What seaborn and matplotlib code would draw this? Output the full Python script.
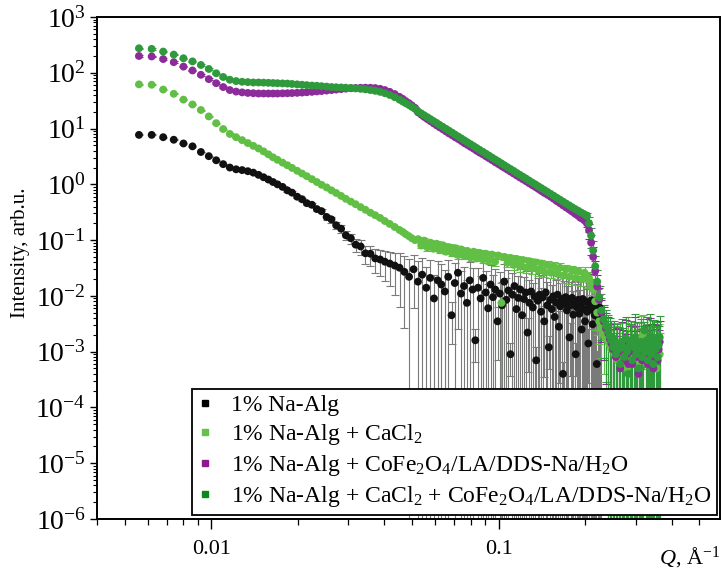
import numpy as np
import pandas as pd
import seaborn as sns
import matplotlib
matplotlib.use("Agg")
import matplotlib.pyplot as plt
from matplotlib.ticker import LogLocator, FixedLocator, FuncFormatter, NullFormatter, LogFormatterSciNotation
from matplotlib.lines import Line2D

# ---------------- data (Q in 1/Angstrom, intensity in arb. units) ----------------
Q_low = [
    0.0056, 0.0062, 0.0068, 0.0074, 0.0080, 0.0086, 0.0092, 0.0098, 0.0104, 0.0110,
    0.0116, 0.0122, 0.0128, 0.0134, 0.0140, 0.0146, 0.0152, 0.0158, 0.0164, 0.0170,
    0.0177, 0.0184, 0.0191, 0.0199, 0.0207, 0.0215, 0.0224, 0.0233, 0.0242, 0.0252,
    0.0262, 0.0272, 0.0283, 0.0294, 0.0306, 0.0318, 0.0331, 0.0344, 0.0358, 0.0372,
    0.0387, 0.0402, 0.0418, 0.0435, 0.0452]

Q_mid = [
    0.0464, 0.0475, 0.0487, 0.0499, 0.0512,
    0.0525, 0.0538, 0.0551, 0.0565, 0.0579, 0.0594, 0.0609, 0.0624, 0.0640, 0.0656,
    0.0672, 0.0689, 0.0706, 0.0724, 0.0742, 0.0760, 0.0779, 0.0799, 0.0819, 0.0839,
    0.0860, 0.0882, 0.0904, 0.0926, 0.0949, 0.0973, 0.0998, 0.1023, 0.1048, 0.1074,
    0.1101, 0.1129, 0.1157, 0.1186, 0.1216, 0.1246, 0.1277, 0.1309, 0.1342, 0.1375,
    0.1410, 0.1445, 0.1481, 0.1518, 0.1556, 0.1595, 0.1635, 0.1676, 0.1718, 0.1761,
    0.1805, 0.1850, 0.1896, 0.1944, 0.1992, 0.2030, 0.2065, 0.2100, 0.2135, 0.2170]

Q_tail = [
    0.2205, 0.2240, 0.2280, 0.2320, 0.2365, 0.2410, 0.2440, 0.2470, 0.2500, 0.2530,
    0.2560, 0.2590, 0.2620, 0.2650, 0.2680, 0.2710, 0.2740, 0.2770, 0.2800, 0.2830,
    0.2860, 0.2890, 0.2920, 0.2950, 0.2980, 0.3010, 0.3040, 0.3070, 0.3100, 0.3130,
    0.3160, 0.3190, 0.3220, 0.3250, 0.3280, 0.3310, 0.3340, 0.3370, 0.3400, 0.3430,
    0.3460, 0.3490, 0.3520, 0.3550, 0.3580, 0.3610, 0.3640]

Q_alg_hi = [
    0.0470, 0.0488, 0.0506, 0.0524, 0.0542, 0.0560, 0.0578, 0.0596, 0.0614, 0.0632,
    0.0650, 0.0668, 0.0686, 0.0704, 0.0722, 0.0740, 0.0758, 0.0776, 0.0794, 0.0812,
    0.0830, 0.0848, 0.0866, 0.0884, 0.0902, 0.0920, 0.0938, 0.0956, 0.0974, 0.0992,
    0.1010, 0.1028, 0.1046, 0.1064, 0.1082, 0.1100, 0.1118, 0.1136, 0.1154, 0.1172,
    0.1190, 0.1208, 0.1226, 0.1244, 0.1262, 0.1280, 0.1298, 0.1316, 0.1334, 0.1352,
    0.1370, 0.1388, 0.1406, 0.1424, 0.1442, 0.1460, 0.1478, 0.1496, 0.1514, 0.1532,
    0.1550, 0.1568, 0.1586, 0.1604, 0.1622, 0.1640, 0.1658, 0.1676, 0.1694, 0.1712,
    0.1730, 0.1748, 0.1766, 0.1784, 0.1802, 0.1820, 0.1838, 0.1856, 0.1874, 0.1892,
    0.1910, 0.1928, 0.1946, 0.1964, 0.1982, 0.2000, 0.2018, 0.2036, 0.2054, 0.2072,
    0.2090, 0.2108, 0.2126, 0.2144, 0.2162, 0.2180, 0.2198, 0.2216, 0.2234, 0.2252,
    0.2270]

# 1% Na-Alg
I_alg_low = [
    7.7, 7.7, 7.0, 6.3, 5.4, 4.8, 3.8, 3.2, 2.7, 2.3,
    2.0, 1.86, 1.8, 1.72, 1.62, 1.48, 1.34, 1.22, 1.1, 1.0,
    0.9, 0.78, 0.71, 0.6, 0.54, 0.46, 0.43, 0.36, 0.33, 0.26,
    0.235, 0.185, 0.16, 0.122, 0.108, 0.083, 0.077, 0.058, 0.057, 0.047,
    0.045, 0.041, 0.038, 0.035, 0.032]
I_alg_hi = [
    0.027, 0.022, 0.030, 0.018, 0.024, 0.014, 0.021, 0.009, 0.019, 0.016,
    0.012, 0.022, 0.0045, 0.017, 0.026, 0.011, 0.015, 0.0075, 0.019, 0.013,
    0.0016, 0.014, 0.009, 0.021, 0.0115, 0.006, 0.016, 0.0095, 0.013, 0.0035,
    0.011, 0.0068, 0.018, 0.0085, 0.0125, 0.0009, 0.0105, 0.015, 0.0058, 0.0092,
    0.013, 0.0045, 0.0088, 0.0115, 0.0022, 0.0075, 0.012, 0.0062, 0.0098, 0.0007,
    0.0082, 0.0105, 0.0052, 0.0094, 0.0035, 0.0115, 0.0068, 0.0012, 0.0085, 0.0058,
    0.0098, 0.0042, 0.0076, 0.0105, 0.0028, 0.0065, 0.0088, 0.0004, 0.0072, 0.0095,
    0.0055, 0.0082, 0.0018, 0.0068, 0.0092, 0.0046, 0.0075, 0.0009, 0.0062, 0.0085,
    0.0048, 0.0072, 0.0025, 0.0088, 0.0058, 0.0035, 0.0079, 0.0052, 0.0014, 0.0068,
    0.0057, 0.0083, 0.0031, 0.0065, 0.0045, 0.0074, 0.0006, 0.0052, 0.0038, 0.0061,
    0.0042]
# relative errors, 1% Na-Alg
err_alg_low = [0.02] * 10 + [0.03] * 10 + [
    0.05, 0.05, 0.06, 0.06, 0.07, 0.07, 0.08, 0.08, 0.09, 0.1,
    0.12, 0.14, 0.16, 0.18, 0.2, 0.25, 0.3, 0.35, 0.4, 0.45,
    0.5, 0.55, 0.6, 0.7, 0.8]
err_alg_hi = [
    0.9, 1.1, 0.8, 1.3, 1.0, 1.4, 1.1, 1.6, 1.2, 1.3,
    1.4, 1.0, 0.7, 1.3, 0.9, 1.5, 1.2, 1.6, 1.1, 1.4,
    0.6, 1.3, 1.5, 1.0, 1.4, 1.7, 1.2, 1.5, 1.3, 0.8,
    1.4, 1.6, 1.1, 1.5, 1.3, 0.6, 1.4, 1.2, 1.7, 1.5,
    1.3, 1.7, 1.5, 1.4, 0.8, 1.6, 1.3, 1.7, 1.5, 0.7,
    1.5, 1.4, 1.7, 1.5, 0.9, 1.4, 1.6, 0.6, 1.5, 1.7,
    1.4, 1.7, 1.5, 1.3, 0.9, 1.6, 1.5, 0.6, 1.6, 1.4,
    1.7, 1.5, 0.8, 1.6, 1.4, 1.7, 1.5, 0.6, 1.6, 1.5,
    1.7, 1.5, 1.0, 1.4, 1.6, 1.7, 1.5, 1.6, 0.8, 1.5,
    1.6, 1.4, 1.7, 1.5, 1.7, 1.5, 0.7, 1.6, 1.7, 1.5,
    1.6]

# 1% Na-Alg + CaCl2
I_ca_low = [
    62, 61, 50, 42, 33, 27, 21.5, 16.5, 12.5, 9.8,
    8.0, 7.0, 6.2, 5.5, 4.9, 4.4, 3.9, 3.45, 3.05, 2.75,
    2.45, 2.2, 1.97, 1.75, 1.56, 1.4, 1.24, 1.1, 0.98, 0.88,
    0.78, 0.7, 0.62, 0.55, 0.49, 0.44, 0.39, 0.35, 0.31, 0.28,
    0.25, 0.22, 0.195, 0.172, 0.152]
I_ca_mid = [
    0.14, 0.128, 0.118, 0.108, 0.1,
    0.104, 0.08, 0.098, 0.074, 0.09, 0.07, 0.086, 0.066, 0.081, 0.062,
    0.075, 0.058, 0.072, 0.054, 0.068, 0.052, 0.064, 0.049, 0.062, 0.047,
    0.059, 0.045, 0.057, 0.043, 0.055, 0.041, 0.053, 0.0075, 0.05, 0.039,
    0.048, 0.036, 0.046, 0.034, 0.044, 0.032, 0.042, 0.031, 0.04, 0.029,
    0.038, 0.027, 0.036, 0.026, 0.034, 0.025, 0.032, 0.023, 0.03, 0.022,
    0.029, 0.021, 0.028, 0.02, 0.026, 0.02, 0.021, 0.017, 0.013, 0.008]
I_ca_tail = [
    0.005, 0.0035, 0.0026, 0.002, 0.0017, 0.0015, 0.0013, 0.0011, 0.0014, 0.0009,
    0.0012, 0.0007, 0.0010, 0.0014, 0.0006, 0.0011, 0.0009, 0.0013, 0.0005, 0.0016,
    0.0010, 0.0007, 0.0012, 0.0015, 0.0008, 0.0011, 0.0006, 0.0013, 0.0009, 0.0017,
    0.0011, 0.0021, 0.0008, 0.0012, 0.0006, 0.0014, 0.0010, 0.0007, 0.0013, 0.0009,
    0.0015, 0.0008, 0.0012, 0.0005, 0.0011, 0.0014, 0.0009]
err_ca_low = [0.02] * 40 + [0.05] * 5
err_ca_mid = [0.05] * 5 + [
    0.1, 0.1, 0.1, 0.12, 0.1, 0.1, 0.1, 0.12, 0.1, 0.1,
    0.12, 0.1, 0.12, 0.15, 0.1, 0.12, 0.1, 0.15, 0.12, 0.1,
    0.12, 0.15, 0.12, 0.15, 0.12, 0.15, 0.12, 1.3, 0.12, 0.15,
    0.15, 0.18, 0.15, 0.2, 0.15, 0.18, 0.15, 0.2, 0.15, 0.2,
    0.18, 0.2, 0.18, 0.2, 0.18, 0.2, 0.2, 0.25, 0.2, 0.25,
    0.2, 0.25, 0.2, 0.25, 0.25, 0.3, 0.3, 0.4, 0.5, 0.7]

# 1% Na-Alg + CoFe2O4/LA/DDS-Na/H2O
I_fer_low = [
    200, 196, 176, 155, 129, 110, 92, 77, 65, 55.5,
    49, 46, 44.5, 43.5, 43, 42.5, 42.5, 42.5, 42.5, 42.5,
    42.8, 43, 43.3, 43.7, 44.2, 44.8, 45.5, 46.3, 47.1, 48,
    49, 50, 51, 52, 52.8, 53.4, 53.8, 54, 53.8, 53.2,
    51.5, 49, 45.5, 41.5, 37]
I_fer_mid = [
    34, 31, 28.5, 26, 23.5,
    19.5, 17.8, 16.2, 14.8, 13.6, 12.4, 11.4, 10.5, 9.7, 8.9,
    8.2, 7.6, 7.0, 6.5, 6.0, 5.5, 5.1, 4.7, 4.35, 4.0,
    3.7, 3.45, 3.18, 2.94, 2.72, 2.5, 2.32, 2.14, 1.98, 1.83,
    1.69, 1.56, 1.44, 1.33, 1.23, 1.14, 1.05, 0.97, 0.9, 0.83,
    0.76, 0.7, 0.65, 0.6, 0.55, 0.5, 0.46, 0.42, 0.385, 0.355,
    0.325, 0.295, 0.27, 0.245, 0.225, 0.2, 0.15, 0.09, 0.05, 0.028]
I_fer_tail = [
    0.0147, 0.0085, 0.005, 0.0035, 0.0026, 0.0021, 0.0017, 0.0014, 0.0011, 0.0015,
    0.0008, 0.0012, 0.0010, 0.0005, 0.0013, 0.0011, 0.0007, 0.0015, 0.0009, 0.0006,
    0.0012, 0.0014, 0.0006, 0.0010, 0.0016, 0.0008, 0.0012, 0.0004, 0.0010, 0.0013,
    0.0007, 0.0011, 0.0009, 0.0013, 0.0015, 0.0006, 0.0010, 0.0016, 0.0008, 0.0012,
    0.0005, 0.0014, 0.0010, 0.0013, 0.0007, 0.0011, 0.0015]

# 1% Na-Alg + CaCl2 + CoFe2O4/LA/DDS-Na/H2O
I_mix_low = [
    275, 268, 240, 212, 182, 160, 138, 117, 98, 84,
    75, 71, 69, 68, 67, 67, 66.5, 66, 65.5, 65,
    64.5, 64, 63, 62, 61, 60, 59, 58.5, 57.5, 56.5,
    55.5, 55, 54.5, 54, 53.5, 52.5, 51.5, 50.5, 49, 47.5,
    45.5, 43, 40, 36.5, 33]
I_mix_mid = [
    30.5, 28.5, 26.5, 24.5, 22.5,
    20.2, 18.7, 17.3, 16.0, 14.8, 13.6, 12.6, 11.6, 10.7, 9.9,
    9.15, 8.45, 7.8, 7.2, 6.66, 6.15, 5.68, 5.25, 4.85, 4.48,
    4.14, 3.83, 3.54, 3.27, 3.02, 2.79, 2.58, 2.38, 2.2, 2.03,
    1.88, 1.74, 1.6, 1.48, 1.37, 1.27, 1.17, 1.08, 1.0, 0.924,
    0.854, 0.789, 0.729, 0.674, 0.623, 0.575, 0.532, 0.491, 0.454, 0.42,
    0.388, 0.36, 0.335, 0.31, 0.29, 0.27, 0.20, 0.12, 0.065, 0.034]
I_mix_tail = [
    0.018, 0.0095, 0.0055, 0.0038, 0.0029, 0.0023, 0.0019, 0.0016, 0.0012, 0.0017,
    0.0009, 0.0014, 0.0011, 0.0006, 0.0015, 0.0012, 0.0008, 0.0017, 0.0010, 0.0004,
    0.0013, 0.0016, 0.0007, 0.0012, 0.0018, 0.0009, 0.0014, 0.0005, 0.0011, 0.0015,
    0.0008, 0.0013, 0.0024, 0.0010, 0.0016, 0.0007, 0.0012, 0.0019, 0.0009, 0.0014,
    0.0006, 0.0017, 0.0011, 0.0015, 0.0008, 0.0013, 0.0018]

# relative errors shared by the ferrofluid samples
err_fer_low = [0.03] * 45
err_fer_mid = [0.03] * 55 + [0.04, 0.05, 0.05, 0.06, 0.08, 0.15, 0.3, 0.4, 0.5, 0.5]
err_tail = [
    0.6, 0.6, 0.7, 0.8, 0.9, 1.0, 1.1, 1.2, 1.3, 1.1,
    1.4, 1.2, 1.5, 1.3, 1.6, 1.2, 1.4, 1.5, 1.3, 1.6,
    1.4, 1.2, 1.5, 1.3, 1.6, 1.2, 1.4, 1.5, 1.3, 1.6,
    1.4, 1.2, 0.4, 1.3, 1.6, 1.2, 1.4, 1.5, 1.3, 1.6,
    1.4, 1.2, 1.5, 1.3, 1.6, 1.2, 1.4]

y_ticks = [1e-6, 1e-5, 1e-4, 1e-3, 1e-2, 1e-1, 1e0, 1e1, 1e2, 1e3]
x_ticks = [0.01, 0.1]

labels = [
    "1% Na-Alg",
    "1% Na-Alg + CaCl$_2$",
    "1% Na-Alg + CoFe$_2$O$_4$/LA/DDS-Na/H$_2$O",
    "1% Na-Alg + CaCl$_2$ + CoFe$_2$O$_4$/LA/DDS-Na/H$_2$O",
]
colors = ["#111111", "#62bf46", "#8b2c9a", "#2f9a3c"]
err_colors = ["#7a7a7a", "#62bf46", "#8b2c9a", "#2f9a3c"]
cap_colors = ["#2a2a2a", "#62bf46", "#8b2c9a", "#2f9a3c"]
legend_colors = ["#000000", "#66c04a", "#8b1a8b", "#0a8a1a"]

series = [
    (Q_low + Q_alg_hi, I_alg_low + I_alg_hi, err_alg_low + err_alg_hi),
    (Q_low + Q_mid + Q_tail, I_ca_low + I_ca_mid + I_ca_tail, err_ca_low + err_ca_mid + err_tail),
    (Q_low + Q_mid + Q_tail, I_fer_low + I_fer_mid + I_fer_tail, err_fer_low + err_fer_mid + err_tail),
    (Q_low + Q_mid + Q_tail, I_mix_low + I_mix_mid + I_mix_tail, err_fer_low + err_fer_mid + err_tail),
]

frames = []
for lab, (q, i, rel) in zip(labels, series):
    assert len(q) == len(i) == len(rel), (lab, len(q), len(i), len(rel))
    d = pd.DataFrame({"Q": q, "I": i,
                      "err": np.array(i, float) * np.array(rel, float),
                      "series": lab})
    frames.append(d)
df = pd.concat(frames, ignore_index=True)

# ---------------- plotting ----------------
sns.set_theme(style="ticks")
plt.rcParams.update({
    "font.family": ["Liberation Serif", "DejaVu Serif"],
    "mathtext.fontset": "custom",
    "mathtext.rm": "Liberation Serif",
    "mathtext.it": "Liberation Serif:italic",
    "mathtext.bf": "Liberation Serif:bold",
    "axes.edgecolor": "black",
    "text.color": "black",
    "axes.labelcolor": "black",
    "xtick.color": "black",
    "ytick.color": "black",
})

fig, ax = plt.subplots(figsize=(7.22, 5.74), dpi=100)
fig.subplots_adjust(left=97 / 722, right=720 / 722, top=1 - 17 / 574, bottom=1 - 519 / 574)

ax.set_xscale("log")
ax.set_yscale("log")

for d, ec, cc in zip(frames, err_colors, cap_colors):
    _, caps, _ = ax.errorbar(d["Q"], d["I"], yerr=d["err"], fmt="none", ecolor=ec,
                             elinewidth=0.8, capsize=2.6, capthick=0.8, zorder=1)
    for c in caps:
        c.set_color(cc)

sns.scatterplot(data=df, x="Q", y="I", hue="series",
                palette=dict(zip(labels, colors)), s=32, linewidth=0,
                legend=False, ax=ax, zorder=2)

ax.set_xlim(0.004, 0.59)
ax.set_ylim(1e-6, 1e3)

ax.yaxis.set_major_locator(FixedLocator(y_ticks))
ax.yaxis.set_major_formatter(LogFormatterSciNotation())
ax.yaxis.set_minor_locator(LogLocator(base=10, subs=(2, 3, 4, 5, 6, 7, 8, 9), numticks=20))
ax.yaxis.set_minor_formatter(NullFormatter())
ax.xaxis.set_major_locator(FixedLocator(x_ticks))
ax.xaxis.set_minor_locator(LogLocator(base=10, subs=(2, 3, 4, 5, 6, 7, 8, 9), numticks=10))
ax.xaxis.set_major_formatter(FuncFormatter(lambda v, p: f"{v:g}"))
ax.xaxis.set_minor_formatter(NullFormatter())

ax.tick_params(axis="x", which="major", direction="out", length=7, width=1.0,
               labelsize=16, pad=8, top=False)
ax.tick_params(axis="x", which="minor", direction="out", length=4.5, width=0.9, top=False)
ax.tick_params(axis="y", which="major", direction="out", length=5, width=1.0,
               labelsize=20, pad=3, right=False)
ax.tick_params(axis="y", which="minor", direction="out", length=3, width=0.8, right=False)

for s in ax.spines.values():
    s.set_linewidth(1.4)
    s.set_color("black")
    s.set_visible(True)

ax.set_ylabel("Intensity, arb.u.", fontsize=15)
ax.yaxis.set_label_coords(-0.108, 0.53)
ax.set_xlabel("$Q$, Å$^{-1}$", fontsize=16)
ax.xaxis.set_label_coords(1.0, -0.05)
ax.xaxis.label.set_horizontalalignment("right")

handles = [Line2D([], [], marker="s", ls="none", color=c, markersize=4.5)
           for c in legend_colors]
leg = ax.legend(handles, labels, loc="lower right", bbox_to_anchor=(0.995, 0.008),
                borderaxespad=0, fontsize=17, frameon=True, fancybox=False,
                edgecolor="black", framealpha=1, handlelength=0.6,
                handletextpad=0.8, labelspacing=0.25, borderpad=0.25)
leg.get_frame().set_linewidth(1.3)
leg.set_zorder(5)

fig.savefig("out.png", dpi=100)
